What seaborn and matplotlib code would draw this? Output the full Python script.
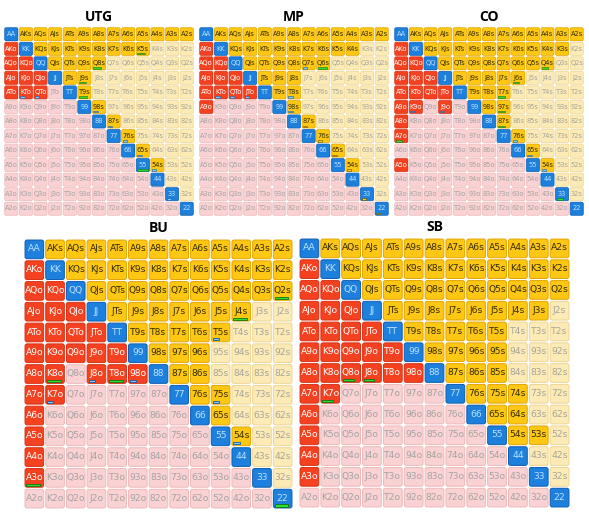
import numpy as np
import pandas as pd
import seaborn as sns
import matplotlib
matplotlib.use("Agg")
import matplotlib.pyplot as plt
from matplotlib.colors import ListedColormap
from matplotlib.patches import Rectangle, FancyBboxPatch

# ---------------- data ----------------
RANKS = list("AKQJT98765432")
POSITIONS = ["UTG", "MP", "CO", "BU", "SB"]

UTG_SUITED = ("AKs AQs AJs ATs A9s A8s A7s A6s A5s A4s A3s A2s "
              "KQs KJs KTs K9s K8s K7s K6s K5s QJs QTs Q9s Q8s "
              "JTs J9s T9s 98s 87s 76s 65s 54s").split()
UTG_OFFSUIT = "AKo AQo AJo ATo KQo KJo KTo QJo QTo".split()

MP_SUITED = ("AKs AQs AJs ATs A9s A8s A7s A6s A5s A4s A3s A2s "
             "KQs KJs KTs K9s K8s K7s K6s K5s K4s QJs QTs Q9s Q8s Q7s Q6s "
             "JTs J9s J8s T9s T8s 98s 87s 76s 65s 54s").split()
MP_OFFSUIT = "AKo AQo AJo ATo A9o KQo KJo KTo QJo QTo JTo".split()

CO_SUITED = ("AKs AQs AJs ATs A9s A8s A7s A6s A5s A4s A3s A2s "
             "KQs KJs KTs K9s K8s K7s K6s K5s K4s K3s "
             "QJs QTs Q9s Q8s Q7s Q6s Q5s Q4s JTs J9s J8s J7s J6s "
             "T9s T8s T7s 98s 97s 87s 76s 65s 54s").split()
CO_OFFSUIT = ("AKo AQo AJo ATo A9o A8o A7o A5o KQo KJo KTo K9o "
              "QJo QTo JTo J9o").split()

BU_SUITED = ("AKs AQs AJs ATs A9s A8s A7s A6s A5s A4s A3s A2s "
             "KQs KJs KTs K9s K8s K7s K6s K5s K4s K3s K2s "
             "QJs QTs Q9s Q8s Q7s Q6s Q5s Q4s Q3s Q2s "
             "JTs J9s J8s J7s J6s J5s J4s T9s T8s T7s T6s T5s "
             "98s 97s 96s 87s 86s 76s 75s 65s 54s").split()
BU_OFFSUIT = ("AKo AQo AJo ATo A9o A8o A7o A6o A5o A4o A3o "
              "KQo KJo KTo K9o K8o K7o QJo QTo Q9o JTo J9o J8o "
              "T9o T8o 98o").split()

SB_SUITED = ("AKs AQs AJs ATs A9s A8s A7s A6s A5s A4s A3s A2s "
             "KQs KJs KTs K9s K8s K7s K6s K5s K4s K3s K2s "
             "QJs QTs Q9s Q8s Q7s Q6s Q5s Q4s Q3s Q2s "
             "JTs J9s J8s J7s J6s J5s J4s J3s T9s T8s T7s T6s T5s "
             "98s 97s 96s 95s 87s 86s 85s 76s 75s 74s 65s 64s 54s 53s").split()
SB_OFFSUIT = ("AKo AQo AJo ATo A9o A8o A7o A6o A5o A4o A3o "
              "KQo KJo KTo K9o K8o K7o QJo QTo Q9o Q8o JTo J9o J8o "
              "T9o T8o 98o").split()

# mixed-frequency markers: hand -> (marker kind, bar length)
UTG_MARKS = {"K5s": ("g", 0.55), "Q8s": ("g", 0.55), "J9s": ("g", 0.5),
             "T9s": ("g", 0.55), "55": ("g", 0.7), "KTo": ("b", 0.3),
             "QTo": ("b", 0.3), "98s": ("b", 0.3), "87s": ("b", 0.3),
             "76s": ("b", 0.3), "65s": ("b", 0.3), "54s": ("b", 0.3),
             "44": ("b", 0.3), "33": ("b", 0.3), "22": ("b", 0.3)}
MP_MARKS = {"Q7s": ("b", 0.3), "Q6s": ("g", 0.65), "KTo": ("b", 0.3),
            "QTo": ("b", 0.3), "JTo": ("b", 0.3), "T8s": ("b", 0.3),
            "98s": ("b", 0.3), "87s": ("y", 0.3), "76s": ("y", 0.3),
            "65s": ("y", 0.3), "54s": ("y", 0.3), "44": ("b", 0.3),
            "33": ("y", 0.3), "22": ("y", 0.3)}
CO_MARKS = {"Q4s": ("g", 0.45), "J6s": ("g", 0.45), "T7s": ("g", 0.45),
            "97s": ("g", 0.45), "87s": ("g", 0.45), "76s": ("b", 0.3),
            "65s": ("b", 0.3), "54s": ("b", 0.3), "K9o": ("b", 0.3),
            "J9o": ("b", 0.3), "A7o": ("g", 0.45), "33": ("g", 0.45)}
BU_MARKS = {"Q2s": ("g", 0.65), "J4s": ("g", 0.65), "T5s": ("b", 0.3),
            "K8o": ("g", 0.65), "K7o": ("b", 0.3), "J8o": ("b", 0.3),
            "T8o": ("g", 0.65), "98o": ("b", 0.3), "75s": ("b", 0.3),
            "54s": ("b", 0.3), "A3o": ("g", 0.65), "22": ("g", 0.65)}
SB_MARKS = {"Q8o": ("g", 0.5), "J8o": ("g", 0.5), "K7o": ("g", 0.5)}

RANGES = {
    "UTG": (UTG_SUITED, UTG_OFFSUIT, UTG_MARKS),
    "MP": (MP_SUITED, MP_OFFSUIT, MP_MARKS),
    "CO": (CO_SUITED, CO_OFFSUIT, CO_MARKS),
    "BU": (BU_SUITED, BU_OFFSUIT, BU_MARKS),
    "SB": (SB_SUITED, SB_OFFSUIT, SB_MARKS),
}

# ---------------- styling ----------------
CELL_COLORS = ["#FAD2D3",   # offsuit, not played
               "#FCEBB6",   # suited, not played
               "#F4411F",   # offsuit, played
               "#FDC713",   # suited, played
               "#1C80DC"]   # pair
EDGE_COLORS = ["#EDB9BA", "#EED592", "#D93117", "#E3A500", "#0F5DB0"]
TEXT_COLORS = ["#A3A3A3", "#A6A39A", "#FFFFFF", "#332B00", "#BFE1FF"]
MARK_COLORS = {"g": ("#2EE02E", "#137313"),
               "b": ("#86CEFA", "#0E57A8"),
               "y": ("#FFD21A", "#5E4800")}

AX_RECTS = {
    "UTG": [4 / 589, 1 - 216 / 515, 190 / 589, 189 / 515],
    "MP": [199 / 589, 1 - 216 / 515, 190 / 589, 189 / 515],
    "CO": [394 / 589, 1 - 216 / 515, 190 / 589, 189 / 515],
    "BU": [24 / 589, 1 - 509 / 515, 269 / 589, 270 / 515],
    "SB": [299 / 589, 1 - 508 / 515, 271 / 589, 270 / 515],
}
SMALL = {"UTG", "MP", "CO"}


def hand_name(i, j):
    if i == j:
        return RANKS[i] * 2
    if i < j:
        return RANKS[i] + RANKS[j] + "s"
    return RANKS[j] + RANKS[i] + "o"


fig = plt.figure(figsize=(5.89, 5.15), dpi=100)
fig.patch.set_facecolor("white")
cmap = ListedColormap(CELL_COLORS)

for pos in POSITIONS:
    suited, offsuit, marks = RANGES[pos]
    n = len(RANKS)
    codes = np.zeros((n, n), dtype=int)
    labels = np.empty((n, n), dtype=object)
    for i in range(n):
        for j in range(n):
            h = hand_name(i, j)
            labels[i, j] = h
            if i == j:
                codes[i, j] = 4
            elif i < j:
                codes[i, j] = 3 if h in suited else 1
            else:
                codes[i, j] = 2 if h in offsuit else 0
    df = pd.DataFrame(codes, index=RANKS, columns=RANKS)

    small = pos in SMALL
    ax = fig.add_axes(AX_RECTS[pos])
    sns.heatmap(df, ax=ax, cmap=cmap, vmin=-0.5, vmax=4.5, cbar=False,
                linewidths=1.0 if small else 1.6, linecolor="white",
                annot=labels, fmt="",
                annot_kws={"size": 4.8 if small else 6.6},
                xticklabels=False, yticklabels=False)
    for t in ax.texts:
        x, y = t.get_position()
        i, j = int(y), int(x)
        code = codes[i, j]
        t.set_color(TEXT_COLORS[code])
        t.set_y(i + 0.48)
        t.set_zorder(4)

    # rounded outline of each cell
    pad = 0.05
    for i in range(n):
        for j in range(n):
            code = codes[i, j]
            ax.add_patch(FancyBboxPatch(
                (j + pad + 0.04, i + pad + 0.04), 1 - 2 * pad - 0.08,
                1 - 2 * pad - 0.08,
                boxstyle="round,pad=0.04,rounding_size=0.1",
                facecolor=CELL_COLORS[code], edgecolor=EDGE_COLORS[code],
                linewidth=0.5 if small else 0.7, zorder=2))

    for h, (kind, length) in marks.items():
        for i in range(n):
            for j in range(n):
                if labels[i, j] == h:
                    fc, ec = MARK_COLORS[kind]
                    ax.add_patch(Rectangle((j + 0.12, i + 0.78), length, 0.1,
                                           facecolor=fc, edgecolor=ec,
                                           linewidth=0.4 if small else 0.6,
                                           zorder=5))
    ax.set_xlabel("")
    ax.set_ylabel("")
    ax.set_title(pos, fontsize=10, fontweight="bold", family="Open Sans",
                 pad=4 if small else 5)

fig.savefig("out.png", dpi=100, facecolor="white")
